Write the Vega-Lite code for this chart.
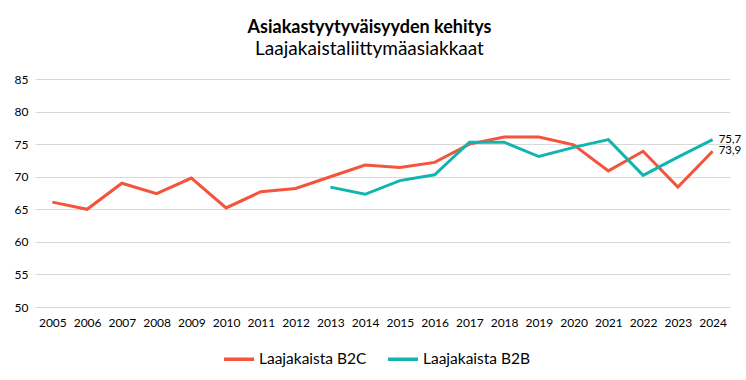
{
  "$schema": "https://vega.github.io/schema/vega-lite/v6.json",
  "width": 695,
  "height": 228,
  "autosize": {"type": "none"},
  "padding": {"left": 35, "top": 79, "right": 16, "bottom": 73},
  "background": "white",
  "title": {
    "text": "Asiakastyytyväisyyden kehitys",
    "subtitle": "Laajakaistaliittymäasiakkaat",
    "anchor": "middle",
    "dx": -13,
    "offset": 14,
    "font": "Lato",
    "fontSize": 18,
    "fontWeight": "bold",
    "color": "#000000",
    "subtitleFont": "Lato",
    "subtitleFontSize": 19,
    "subtitleColor": "#000000",
    "subtitlePadding": 3
  },
  "config": {
    "locale": {"number": {"decimal": ",", "thousands": " ", "grouping": [3], "currency": ["", " €"]}},
    "view": {"stroke": null},
    "font": "Lato"
  },
  "data": {
    "values": [
      {"year": "2005", "series": "Laajakaista B2C", "value": 66.1},
      {"year": "2006", "series": "Laajakaista B2C", "value": 65.0},
      {"year": "2007", "series": "Laajakaista B2C", "value": 69.0},
      {"year": "2008", "series": "Laajakaista B2C", "value": 67.4},
      {"year": "2009", "series": "Laajakaista B2C", "value": 69.8},
      {"year": "2010", "series": "Laajakaista B2C", "value": 65.2},
      {"year": "2011", "series": "Laajakaista B2C", "value": 67.7},
      {"year": "2012", "series": "Laajakaista B2C", "value": 68.2},
      {"year": "2013", "series": "Laajakaista B2C", "value": 70.0},
      {"year": "2014", "series": "Laajakaista B2C", "value": 71.8},
      {"year": "2015", "series": "Laajakaista B2C", "value": 71.4},
      {"year": "2016", "series": "Laajakaista B2C", "value": 72.2},
      {"year": "2017", "series": "Laajakaista B2C", "value": 75.0},
      {"year": "2018", "series": "Laajakaista B2C", "value": 76.1},
      {"year": "2019", "series": "Laajakaista B2C", "value": 76.1},
      {"year": "2020", "series": "Laajakaista B2C", "value": 74.9},
      {"year": "2021", "series": "Laajakaista B2C", "value": 70.9},
      {"year": "2022", "series": "Laajakaista B2C", "value": 73.9},
      {"year": "2023", "series": "Laajakaista B2C", "value": 68.4},
      {"year": "2024", "series": "Laajakaista B2C", "value": 73.9},
      {"year": "2013", "series": "Laajakaista B2B", "value": 68.4},
      {"year": "2014", "series": "Laajakaista B2B", "value": 67.3},
      {"year": "2015", "series": "Laajakaista B2B", "value": 69.4},
      {"year": "2016", "series": "Laajakaista B2B", "value": 70.3},
      {"year": "2017", "series": "Laajakaista B2B", "value": 75.3},
      {"year": "2018", "series": "Laajakaista B2B", "value": 75.3},
      {"year": "2019", "series": "Laajakaista B2B", "value": 73.1},
      {"year": "2020", "series": "Laajakaista B2B", "value": 74.5},
      {"year": "2021", "series": "Laajakaista B2B", "value": 75.7},
      {"year": "2022", "series": "Laajakaista B2B", "value": 70.2},
      {"year": "2023", "series": "Laajakaista B2B", "value": 73.0},
      {"year": "2024", "series": "Laajakaista B2B", "value": 75.7}
    ]
  },
  "encoding": {
    "x": {
      "field": "year",
      "type": "ordinal",
      "scale": {"type": "point", "padding": 0.5},
      "axis": {
        "title": null,
        "labelAngle": 0,
        "domain": false,
        "ticks": false,
        "labelFont": "Lato",
        "labelFontSize": 12,
        "labelColor": "#000000",
        "labelPadding": 10
      }
    },
    "y": {
      "field": "value",
      "type": "quantitative",
      "scale": {"domain": [50, 85], "nice": false, "zero": false},
      "axis": {
        "title": null,
        "values": [50, 55, 60, 65, 70, 75, 80, 85],
        "domain": false,
        "ticks": false,
        "grid": true,
        "gridColor": "#D9D9D9",
        "gridWidth": 1,
        "labelFont": "Lato",
        "labelFontSize": 12,
        "labelColor": "#000000",
        "labelPadding": 7
      }
    },
    "color": {
      "field": "series",
      "type": "nominal",
      "scale": {"domain": ["Laajakaista B2C", "Laajakaista B2B"], "range": ["#F4533C", "#12B4AF"]},
      "legend": {
        "title": null,
        "orient": "none",
        "legendX": 187,
        "legendY": 263,
        "direction": "horizontal",
        "symbolType": "stroke",
        "symbolStrokeWidth": 3.5,
        "symbolSize": 900,
        "labelOffset": 3,
        "labelFont": "Lato",
        "labelFontSize": 15.5,
        "labelColor": "#000000",
        "columnPadding": 14
      }
    }
  },
  "layer": [
    {"mark": {"type": "line", "strokeWidth": 3}},
    {
      "transform": [{"filter": "datum.year == '2024'"}],
      "mark": {"type": "text", "align": "left", "dx": 6, "font": "Lato", "fontSize": 11.5, "color": "#000000"},
      "encoding": {
        "text": {"field": "value", "type": "quantitative", "format": ".1f"},
        "color": {"value": "#000000"}
      }
    }
  ]
}
